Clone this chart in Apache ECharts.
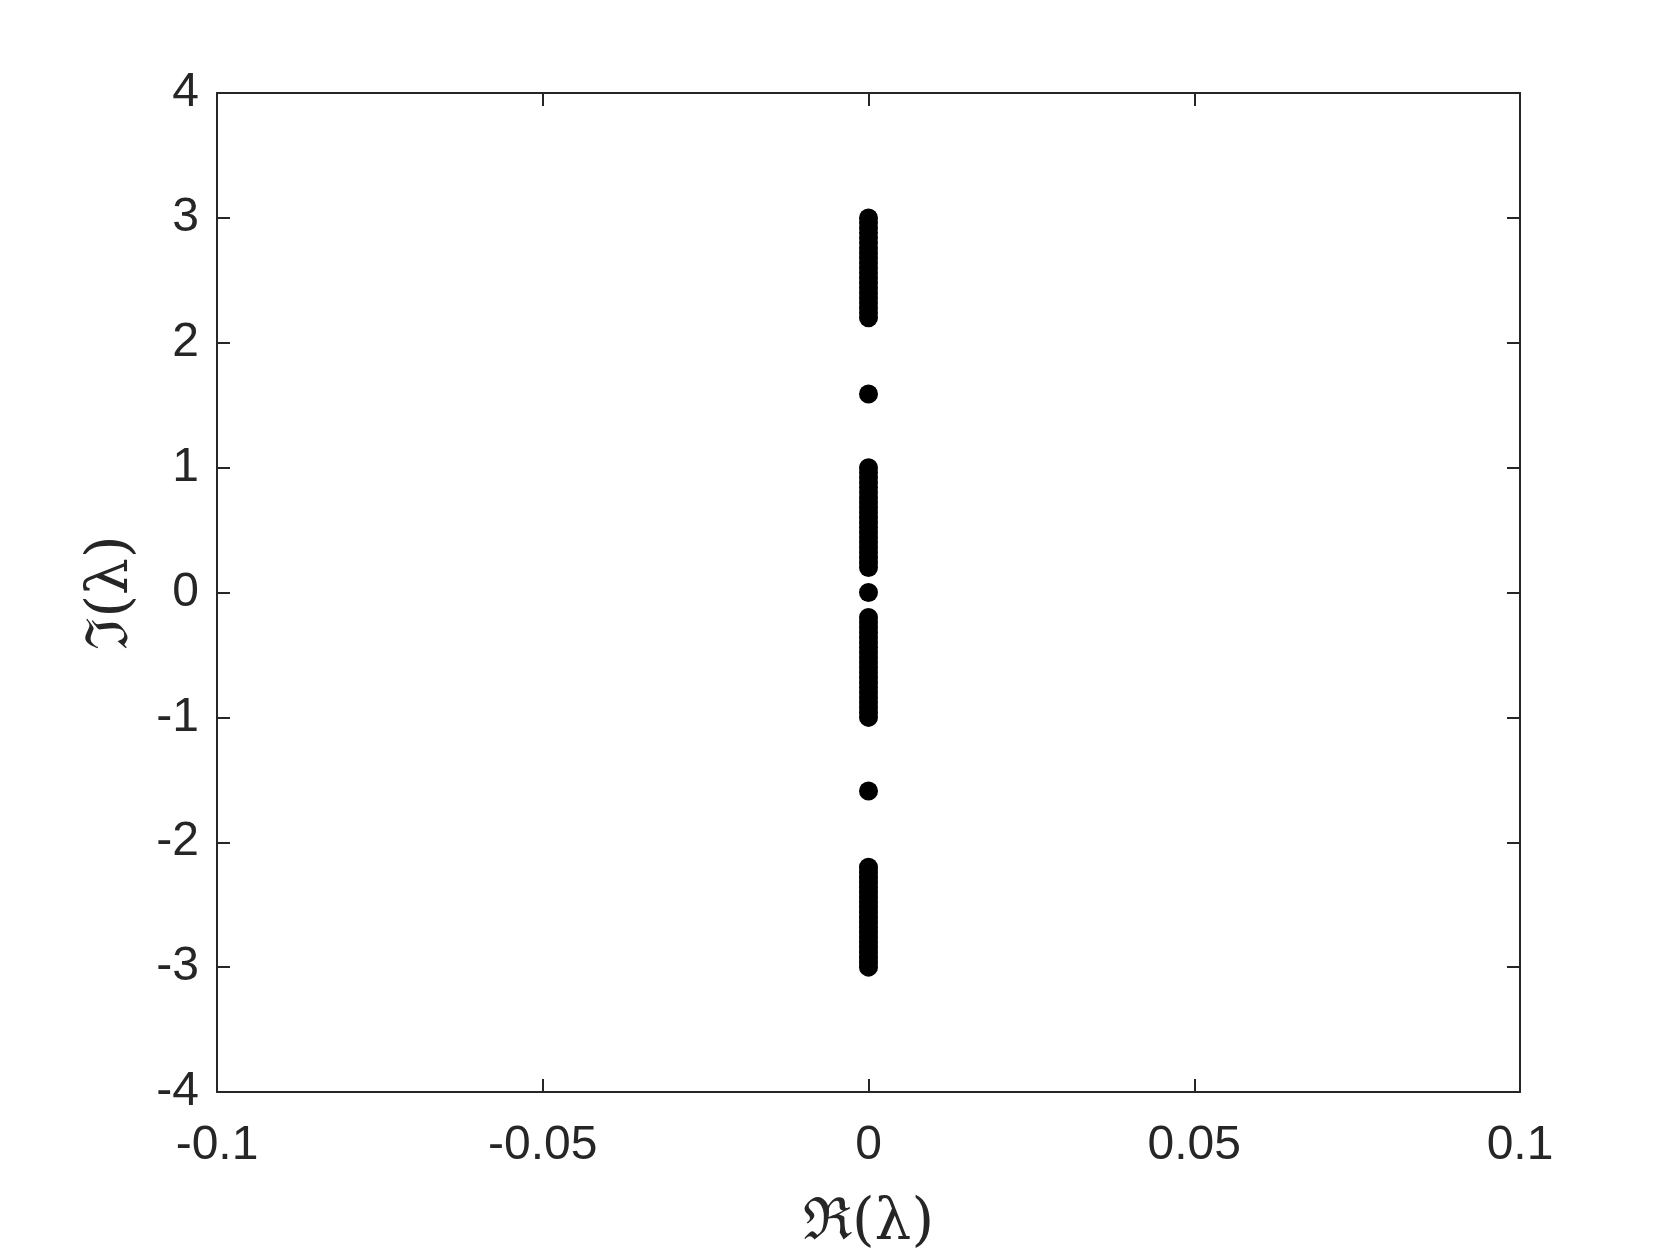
<!DOCTYPE html>
<html lang="en">
<head>
    <meta charset="UTF-8">
    <title>Spectrum</title>
    <script src="https://cdn.jsdelivr.net/npm/echarts@6/dist/echarts.min.js"></script>
    <style>
        html, body { margin: 0; padding: 0; background: #fff; }
        #main { width: 1679px; height: 1258px; }
    </style>
</head>
<body>
<div id="main"></div>
<script>
    // eigenvalues, real part is zero everywhere
    var upperOuter = [2.20, 2.24, 2.28, 2.32, 2.36, 2.40, 2.44, 2.48, 2.52, 2.56, 2.60,
        2.64, 2.68, 2.72, 2.76, 2.80, 2.84, 2.88, 2.92, 2.96, 3.00];
    var upperInner = [0.20, 0.24, 0.28, 0.32, 0.36, 0.40, 0.44, 0.48, 0.52, 0.56, 0.60,
        0.64, 0.68, 0.72, 0.76, 0.80, 0.84, 0.88, 0.92, 0.96, 1.00];
    var lowerInner = [-0.20, -0.24, -0.28, -0.32, -0.36, -0.40, -0.44, -0.48, -0.52, -0.56, -0.60,
        -0.64, -0.68, -0.72, -0.76, -0.80, -0.84, -0.88, -0.92, -0.96, -1.00];
    var lowerOuter = [-2.20, -2.24, -2.28, -2.32, -2.36, -2.40, -2.44, -2.48, -2.52, -2.56, -2.60,
        -2.64, -2.68, -2.72, -2.76, -2.80, -2.84, -2.88, -2.92, -2.96, -3.00];
    var isolated = [1.59, 0, -1.59];

    var xTicks = [-0.1, -0.05, 0, 0.05, 0.1];
    var yTicks = [-4, -3, -2, -1, 0, 1, 2, 3, 4];

    var imagAll = [].concat(upperOuter, upperInner, isolated, lowerInner, lowerOuter);
    var points = imagAll.map(function (v) { return [0, v]; });

    var axisColor = '#262626';
    var tickFont = 'Liberation Sans, Arial, sans-serif';

    var chart = echarts.init(document.getElementById('main'));

    function baseX(pos, show) {
        return {
            type: 'value', position: pos,
            min: xTicks[0], max: xTicks[xTicks.length - 1], interval: 0.05,
            axisLine: { show: true, onZero: false, lineStyle: { color: axisColor, width: 2 } },
            axisTick: { show: true, inside: true, length: 13, lineStyle: { color: axisColor, width: 2 } },
            axisLabel: {
                show: show, margin: 30, color: axisColor, fontSize: 48, fontFamily: tickFont,
                formatter: function (v) { return String(Math.round(v * 100) / 100); }
            },
            splitLine: { show: false }
        };
    }

    function baseY(pos, show) {
        return {
            type: 'value', position: pos,
            min: yTicks[0], max: yTicks[yTicks.length - 1], interval: 1,
            axisLine: { show: true, onZero: false, lineStyle: { color: axisColor, width: 2 } },
            axisTick: { show: true, inside: true, length: 13, lineStyle: { color: axisColor, width: 2 } },
            axisLabel: { show: show, margin: 18, color: axisColor, fontSize: 48, fontFamily: tickFont },
            splitLine: { show: false }
        };
    }

    var xBottom = baseX('bottom', true);
    xBottom.name = 'ℜ(λ)';
    xBottom.nameLocation = 'middle';
    xBottom.nameGap = 103;
    xBottom.nameTextStyle = { color: axisColor, fontSize: 58, fontFamily: 'DejaVu Serif, serif' };

    var yLeft = baseY('left', true);
    yLeft.name = 'ℑ(λ)';
    yLeft.nameLocation = 'middle';
    yLeft.nameGap = 76;
    yLeft.nameTextStyle = { color: axisColor, fontSize: 58, fontFamily: 'DejaVu Serif, serif' };

    var xTop = baseX('top', false);
    var yRight = baseY('right', false);

    chart.setOption({
        backgroundColor: '#ffffff',
        animation: false,
        grid: { left: 217, top: 93, width: 1303, height: 1001 },
        xAxis: [xBottom, xTop],
        yAxis: [yLeft, yRight],
        series: [{
            type: 'scatter',
            xAxisIndex: 0,
            yAxisIndex: 0,
            symbol: 'circle',
            symbolSize: 19,
            itemStyle: { color: '#000000', opacity: 1 },
            data: points
        }]
    });
</script>
</body>
</html>
